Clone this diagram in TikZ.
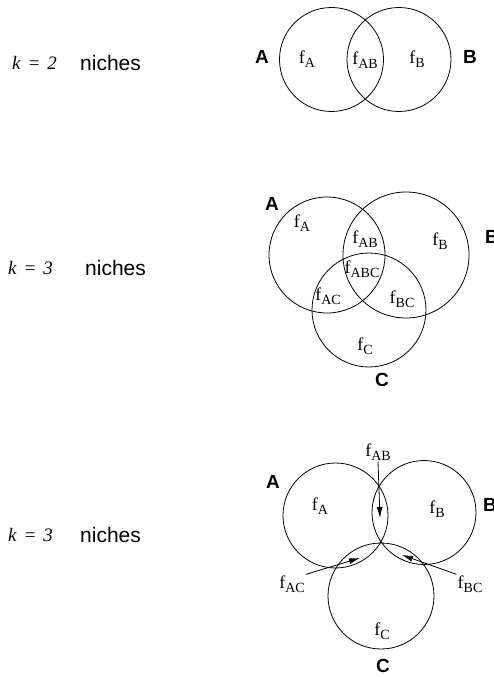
\documentclass[tikz,border=0pt]{standalone}
\usepackage{fontspec}
\setmainfont{Liberation Serif}
\setsansfont{Liberation Sans}
\usetikzlibrary{arrows.meta, positioning}

% frequency label with a lowered subscript
\newcommand{\fsub}[1]{f\raisebox{-0.5ex}{\fontsize{14}{14}\selectfont #1}}

\begin{document}
\begin{tikzpicture}[
    x=1pt, y=-1pt,
    niche/.style={draw=black, line width=0.8pt},
    setlabel/.style={font=\fontsize{19}{19}\selectfont\sffamily\bfseries, inner sep=0pt},
    freq/.style={font=\fontsize{18}{18}\selectfont, inner sep=1pt},
    klabel/.style={font=\fontsize{19}{19}\selectfont, anchor=west, inner sep=0pt},
    nlabel/.style={font=\fontsize{21}{21}\selectfont\sffamily, anchor=west, inner sep=0pt},
    pointer/.style={-{Latex[length=11pt, width=6pt]}, line width=0.8pt},
]
\useasboundingbox (0,0) rectangle (493,677);

% Row 1: two niches
\node[klabel] (k1) at (12, 63) {\textit{k} \,=\, \textit{2}};
\node[nlabel] (n1) at (80, 63) {niches};
\coordinate (a1) at (331.5, 59.5);
\coordinate (b1) at (399, 59.5);
\draw[niche] (a1) circle (52);
\draw[niche] (b1) circle (52);
\node[setlabel] (la1) at (262, 57) {A};
\node[setlabel] (lb1) at (470, 57) {B};
\node[freq] (fa1) at (307, 59) {\fsub{A}};
\node[freq] (fab1) at (365, 60) {\fsub{AB}};
\node[freq] (fb1) at (417, 59) {\fsub{B}};

% Row 2: three overlapping niches
\node[klabel] (k2) at (8, 268) {\textit{k} \,=\, \textit{3}};
\node[nlabel] (n2) at (85, 268) {niches};
\coordinate (a2) at (327, 255);
\coordinate (b2) at (406, 255);
\coordinate (c2) at (369, 310);
\draw[niche] (a2) circle (58);
\draw[niche] (b2) circle (63);
\draw[niche] (c2) circle (57);
\node[setlabel] (la2) at (272, 204) {A};
\node[setlabel] (lb2) at (492, 237) {B};
\node[setlabel] (lc2) at (382, 380) {C};
\node[freq] (fa2) at (302, 223) {\fsub{A}};
\node[freq] (fab2) at (365, 239) {\fsub{AB}};
\node[freq] (fb2) at (440, 241) {\fsub{B}};
\node[freq] (fabc2) at (362, 269) {\fsub{ABC}};
\node[freq] (fac2) at (328, 296) {\fsub{AC}};
\node[freq] (fbc2) at (402, 299) {\fsub{BC}};
\node[freq] (fc2) at (365, 346) {\fsub{C}};

% Row 3: three niches meeting near one point
\node[klabel] (k3) at (8, 535) {\textit{k} \,=\, \textit{3}};
\node[nlabel] (n3) at (80, 535) {niches};
\coordinate (a3) at (335.5, 515.5);
\coordinate (b3) at (424, 512.5);
\coordinate (c3) at (381, 596);
\draw[niche] (a3) circle (52.5);
\draw[niche] (b3) circle (52);
\draw[niche] (c3) circle (53);
\node[setlabel] (la3) at (273, 482) {A};
\node[setlabel] (lb3) at (490, 505) {B};
\node[setlabel] (lc3) at (383, 666) {C};
\node[freq] (fa3) at (320, 506) {\fsub{A}};
\node[freq] (fb3) at (437, 509) {\fsub{B}};
\node[freq] (fc3) at (382, 631) {\fsub{C}};
\node[freq] (fab3) at (378, 452) {\fsub{AB}};
\node[freq] (fac3) at (292, 584) {\fsub{AC}};
\node[freq] (fbc3) at (470, 584) {\fsub{BC}};

% Pointers into the small overlaps
\coordinate (tipab) at (380, 518);
\coordinate (tipac) at (360, 558);
\coordinate (tipbc) at (402, 555);
\draw[pointer] (fab3.south) -- (tipab);
\draw[pointer] (fac3.north east) -- (tipac);
\draw[pointer] (fbc3.north west) -- (tipbc);

\end{tikzpicture}
\end{document}
